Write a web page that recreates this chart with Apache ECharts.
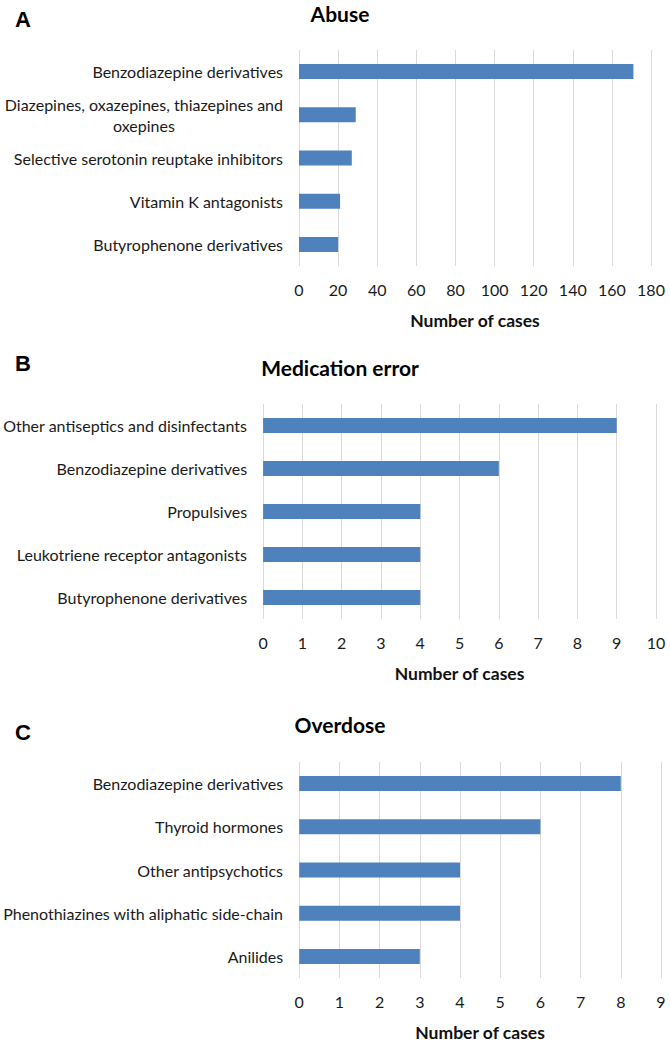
<!DOCTYPE html>
<html>
<head>
<meta charset="utf-8">
<script src="https://cdn.jsdelivr.net/npm/echarts@6/dist/echarts.min.js"></script>
<style>
html,body{margin:0;padding:0;background:#fff;}
#chart{width:670px;height:1042px;}
</style>
</head>
<body>
<div id="chart"></div>
<script>
// ---- data ----
const panelLetters = ['A', 'B', 'C'];
const panelTitles = ['Abuse', 'Medication error', 'Overdose'];
const axisName = 'Number of cases';

const abuseCategories = [
  'Benzodiazepine derivatives',
  'Diazepines, oxazepines, thiazepines and\noxepines',
  'Selective serotonin reuptake inhibitors',
  'Vitamin K antagonists',
  'Butyrophenone derivatives'
];
const abuseValues = [171, 29, 27, 21, 20];
const abuseAxis = { max: 180, step: 20 };

const medErrCategories = [
  'Other antiseptics and disinfectants',
  'Benzodiazepine derivatives',
  'Propulsives',
  'Leukotriene receptor antagonists',
  'Butyrophenone derivatives'
];
const medErrValues = [9, 6, 4, 4, 4];
const medErrAxis = { max: 10, step: 1 };

const overdoseCategories = [
  'Benzodiazepine derivatives',
  'Thyroid hormones',
  'Other antipsychotics',
  'Phenothiazines with aliphatic side-chain',
  'Anilides'
];
const overdoseValues = [8, 6, 4, 4, 3];
const overdoseAxis = { max: 9, step: 1 };

// ---- layout / style ----
const FONT = 'Lato, "Open Sans", sans-serif';
const BAR = '#4F81BD';
const GRID_LINE = '#D9D9D9';

const panels = [
  { cats: abuseCategories, vals: abuseValues, axis: abuseAxis, grid: { left: 299, right: 19, top: 50, height: 216 }, titleY: 15, letterY: 20 },
  { cats: medErrCategories, vals: medErrValues, axis: medErrAxis, grid: { left: 263, right: 14, top: 404, height: 215 }, titleY: 369, letterY: 364 },
  { cats: overdoseCategories, vals: overdoseValues, axis: overdoseAxis, grid: { left: 299, right: 9, top: 762, height: 216 }, titleY: 726, letterY: 733 }
];

const option = {
  animation: false,
  backgroundColor: '#ffffff',
  title: [],
  grid: [],
  xAxis: [],
  yAxis: [],
  series: []
};

panels.forEach((p, i) => {
  option.title.push({
    text: panelTitles[i],
    left: 340, top: p.titleY - 12.5, padding: 0,
    textAlign: 'center',
    textStyle: { fontFamily: FONT, fontWeight: 'bold', fontSize: 21, color: '#000' }
  });
  option.title.push({
    text: panelLetters[i],
    left: 23, top: p.letterY - 12, padding: 0,
    textAlign: 'center',
    textStyle: { fontFamily: '"Liberation Sans", Arial, sans-serif', fontWeight: 'bold', fontSize: 22, color: '#000' }
  });
  option.grid.push(Object.assign({ containLabel: false }, p.grid));
  option.xAxis.push({
    type: 'value', gridIndex: i,
    min: 0, max: p.axis.max, interval: p.axis.step,
    axisLine: { show: false }, axisTick: { show: false },
    splitLine: { show: true, lineStyle: { color: GRID_LINE, width: 1 } },
    axisLabel: { margin: 15, fontFamily: FONT, fontSize: 16, color: '#1a1a1a' },
    name: axisName, nameLocation: 'middle', nameGap: 45,
    nameTextStyle: { fontFamily: FONT, fontWeight: 'bold', fontSize: 17.5, color: '#111' }
  });
  option.yAxis.push({
    type: 'category', gridIndex: i, data: p.cats, inverse: true,
    axisLine: { show: false }, axisTick: { show: false },
    splitLine: { show: false },
    axisLabel: {
      margin: 16, fontFamily: FONT, fontSize: 16, color: '#1a1a1a', lineHeight: 21,
      formatter: function (v) {
        return v.split('\n').map(s => '{c|' + s + '}').join('\n');
      },
      rich: { c: { align: 'center', fontFamily: FONT, fontSize: 16, color: '#1a1a1a', lineHeight: 21 } }
    }
  });
  option.series.push({
    type: 'bar', xAxisIndex: i, yAxisIndex: i,
    data: p.vals, barWidth: 15,
    itemStyle: { color: BAR }
  });
});

const chart = echarts.init(document.getElementById('chart'), null, { renderer: 'svg' });
chart.setOption(option);
</script>
</body>
</html>
